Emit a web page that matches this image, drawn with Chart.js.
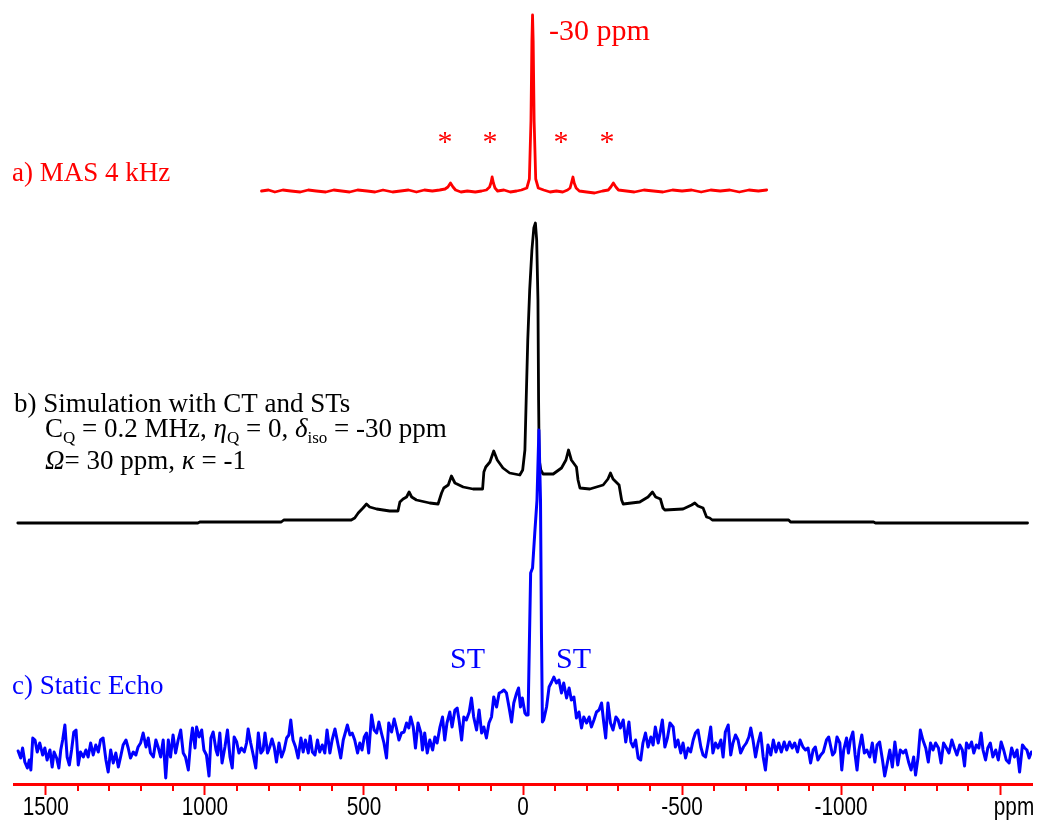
<!DOCTYPE html>
<html>
<head>
<meta charset="utf-8">
<script src="https://cdn.jsdelivr.net/npm/chart.js@4/dist/chart.umd.min.js"></script>
<style>
    html, body { margin: 0; padding: 0; background: #fff; }
    #wrap { position: relative; width: 1045px; height: 823px; }
</style>
</head>
<body>
<div id="wrap"><canvas id="nmrChart" width="1045" height="823"></canvas></div>
<script>
// Spectra: [ppm, intensity above the trace's own baseline]
// a) MAS 4 kHz (red)
const masPoints = [
    [822,0],[800,1],[780,-1],[755,1],[730,0],[700,-1],[675,1],[650,0],[620,-1],[595,1],[570,0],[545,-1],
    [520,1],[490,0],[465,-1],[440,1],[410,-1],[385,0],[360,1],[335,-1],[310,1],[285,0],[262,1],[245,2],
    [236,4],[228,8],[220,4],[212,1],[195,-1],[175,0],[150,-1],[130,0],[115,1],[105,4],[100,9],[97,14],
    [93,8],[88,3],[80,0],[60,1],[40,-1],[20,0],[5,1],[-12,3],[-20,12],[-25,70],[-28,150],[-30,176],
    [-32,150],[-35,70],[-40,12],[-48,3],[-65,1],[-85,-1],[-105,0],[-125,-1],[-140,1],[-148,3],[-153,9],
    [-157,14],[-161,8],[-167,3],[-177,0],[-200,-1],[-225,-2],[-250,0],[-268,1],[-276,4],[-284,8],[-292,4],
    [-300,1],[-325,0],[-350,-1],[-380,1],[-410,0],[-440,-1],[-470,1],[-500,0],[-530,1],[-560,-1],[-590,1],
    [-620,0],[-650,1],[-680,-1],[-710,1],[-740,0],[-766,1]
];

// b) Simulation with CT and STs (black)
const simPoints = [
    [1588,-1],[1022,-1],[1016,0],[760,0],[752,2],[540,2],[529,4],[518,9],[503,14],[492,18],[482,15],
    [460,13],[419,11],[393,11],[387,20],[377,23],[366,25],[358,30],[350,25],[335,22],[293,19],[267,18],
    [256,29],[249,34],[235,37],[225,46],[214,39],[188,35],[157,33],[127,33],[123,50],[117,55],[104,60],
    [92,71],[81,62],[63,54],[42,49],[10,47],[1,52],[-6,72],[-10,122],[-15,182],[-21,232],[-28,272],
    [-34,294],[-39,299],[-43,282],[-47,222],[-49,122],[-51,62],[-56,52],[-63,48],[-95,48],[-121,54],
    [-135,62],[-143,72],[-152,62],[-168,55],[-173,42],[-179,34],[-210,33],[-252,37],[-267,43],[-275,49],
    [-283,43],[-302,37],[-310,22],[-315,18],[-367,20],[-393,25],[-407,30],[-417,25],[-432,23],[-440,14],
    [-446,12],[-503,13],[-530,17],[-540,19],[-550,16],[-566,14],[-577,5],[-587,4],[-595,2],[-835,2],
    [-841,0],[-1102,0],[-1108,-1],[-1586,-1]
];

// c) Static Echo (blue)
const echoPoints = [
    [1587,-1],[1579,-8],[1573,2],[1566,-12],[1558,-18],[1552,-10],[1547,-20],[1541,12],[1534,10],[1527,-2],
    [1519,7],[1510,-5],[1503,2],[1496,-10],[1487,0],[1480,-17],[1474,-2],[1466,-8],[1459,-18],[1453,0],
    [1447,10],[1440,25],[1433,-7],[1426,-15],[1419,0],[1412,18],[1405,20],[1398,-15],[1391,-2],[1382,-7],
    [1374,0],[1367,-7],[1359,7],[1351,-5],[1343,5],[1335,-2],[1328,10],[1320,12],[1311,-10],[1304,-22],
    [1296,0],[1288,-13],[1280,-3],[1272,-17],[1265,-7],[1257,5],[1248,10],[1241,2],[1234,-8],[1225,-2],
    [1217,-5],[1210,3],[1202,7],[1194,17],[1185,3],[1178,12],[1171,-3],[1162,-7],[1154,10],[1147,3],
    [1139,-7],[1131,10],[1123,-28],[1115,10],[1108,-7],[1100,15],[1092,-3],[1084,10],[1076,20],[1068,-3],
    [1061,-7],[1052,-20],[1045,7],[1039,22],[1031,2],[1026,23],[1018,13],[1010,20],[1003,0],[995,-5],
    [987,-26],[981,12],[974,18],[965,0],
    [960,-5],[953,17],[946,-13],[937,3],[929,20],[921,-7],[914,-18],[908,13],[900,8],[893,-3],
    [885,2],[876,-2],[869,7],[864,21],[856,7],[848,-5],[840,-18],[832,17],[824,-3],[817,0],
    [811,17],[803,-3],[796,3],[789,11],[782,3],[775,-12],[767,7],[759,-7],[751,0],[743,12],
    [736,15],[730,30],[723,10],[715,3],[707,-8],[698,12],[691,-2],[684,10],[675,-3],[669,14],
    [662,-2],[654,-5],[646,10],[639,-2],[631,5],[623,-3],[616,20],[607,-3],[600,10],[591,21],
    [583,8],[573,-8],[565,10],[558,18],[552,25],[544,15],[537,17],[529,10],[520,-3],[513,7],
    [506,0],[499,13],[492,17],[485,-3],[476,35],[468,20],[460,17],[453,28],[445,17],[437,7],
    [429,-8],[422,27],[413,18],[405,31],[398,22],[390,10],[382,17],[374,18],[366,27],[359,22],
    [353,33],[345,23],[338,2],[330,27],[321,17],
    [316,0],[309,17],[301,-3],[293,10],[284,0],[277,13],[270,7],[261,23],[253,33],[246,10],
    [239,27],[230,38],[223,23],[214,40],[207,42],[201,30],[193,10],[186,33],[178,30],[169,38],
    [162,52],[155,33],[146,20],[138,40],[130,17],[123,23],[115,12],[107,27],[99,33],[92,53],
    [83,43],[75,57],[68,58],[60,60],[52,57],[44,43],[36,28],[29,47],[20,57],[14,62],
    [8,43],[2,52],[-6,37],[-11,35],[-16,35],[-24,177],[-30,182],[-37,217],[-44,250],[-50,320],
    [-55,250],[-58,117],[-61,28],[-65,30],[-74,43],[-82,63],[-90,68],[-97,73],[-105,67],[-113,70],
    [-121,57],[-128,67],[-137,52],[-145,62],[-152,50],[-160,53],[-168,32],[-176,38],[-184,22],[-191,33],
    [-200,27],[-208,33],[-215,23],[-223,30],[-231,38],[-239,40],[-247,47],[-254,27],[-260,12],[-267,47],
    [-275,27],[-283,20],[-292,33],[-299,30],[-306,22],[-315,30],[-323,8],
    [-333,28],[-339,8],[-346,3],[-354,10],[-362,-8],[-370,-10],[-377,7],[-385,17],[-393,3],[-402,13],
    [-409,5],[-416,23],[-425,7],[-431,17],[-438,30],[-446,3],[-454,12],[-462,27],[-472,23],[-479,3],
    [-487,10],[-496,-3],[-503,7],[-511,-8],[-519,2],[-527,-2],[-535,10],[-542,17],[-550,20],[-559,3],
    [-566,-5],[-574,-7],[-582,7],[-590,23],[-597,-3],[-605,7],[-613,2],[-622,10],[-629,-7],[-636,18],
    [-645,25],[-653,-5],[-660,7],[-668,15],[-676,10],[-684,-3],[-693,3],[-702,7],[-710,13],[-716,22],
    [-723,10],[-731,-7],[-739,7],[-747,17],[-755,-7],[-762,-20],[-770,5],[-779,-5],[-787,10],[-795,-2],
    [-804,7],[-812,-2],[-821,8],[-829,0],[-838,8],[-846,2],[-854,7],[-863,-2],[-871,10],[-880,3],
    [-888,0],[-896,2],[-904,-13],[-912,0],[-919,3],[-927,-10],[-936,-5],[-944,-2],[-954,10],[-961,13],
    [-973,-5],[-980,-2],[-987,13],[-996,7],[-1002,-20],[-1008,0],[-1017,12],[-1023,-3],[-1029,10],[-1037,18],
    [-1044,-5],[-1050,-20],[-1056,0],[-1065,15],[-1073,-3],[-1081,0],[-1090,-7],[-1098,7],[-1106,-12],[-1113,5],
    [-1121,8],[-1130,-10],[-1137,-26],[-1144,-15],[-1153,0],[-1161,-17],[-1169,8],[-1178,-15],[-1186,0],[-1195,-3],
    [-1203,0],[-1212,-12],[-1220,-20],[-1228,-7],[-1234,-25],[-1242,-7],[-1249,20],[-1257,10],[-1266,2],[-1274,-12],
    [-1281,7],[-1289,0],[-1297,7],[-1306,2],[-1314,-13],[-1322,7],[-1331,2],[-1339,-3],[-1348,10],[-1356,2],
    [-1364,-5],[-1373,5],[-1381,0],[-1388,-16],[-1394,7],[-1402,2],[-1410,8],[-1417,-3],[-1425,5],[-1433,2],
    [-1440,17],[-1446,0],[-1454,-10],[-1461,2],[-1469,7],[-1477,-7],[-1486,0],[-1494,-10],[-1503,8],[-1511,0],
    [-1519,-10],[-1528,-13],[-1536,2],[-1545,-7],[-1553,0],[-1561,-22],[-1570,5],[-1577,2],[-1584,0],[-1591,-8],
    [-1598,-2]
];

// vertical offset of each trace (stacked plot)
const masOffset = 593;
const simOffset = 262;
const echoOffset = 34;

// x axis ticks
const xTickValues = [1500, 1000, 500, 0, -500, -1000, -1500];
const xTickLabels = ['1500', '1000', '500', '0', '-500', '-1000', ''];

const RED = '#ff0000';
const BLUE = '#0000ff';
const SERIF = '"Liberation Serif", "Times New Roman", serif';
const SANS = '"Liberation Sans", Arial, sans-serif';

function toXY(points, offset) {
    return points.map(([ppm, v]) => ({ x: ppm, y: v + offset }));
}

// draw a line of text made of normal / italic / subscript pieces
function drawRich(ctx, pieces, x, y, size) {
    for (const [text, style] of pieces) {
        let font = `${size}px ${SERIF}`;
        let dy = 0;
        if (style === 'i') font = `italic ${size}px ${SERIF}`;
        if (style === 'sub') {
            font = `${Math.round(size * 0.62)}px ${SERIF}`;
            dy = size * 0.22;
        }
        ctx.font = font;
        ctx.fillText(text, x, y + dy);
        x += ctx.measureText(text).width;
    }
}

// narrow-looking axis label: the original uses a condensed sans face
function drawNarrow(ctx, text, x, y) {
    ctx.save();
    ctx.translate(x, y);
    ctx.scale(0.83, 1);
    ctx.fillText(text, 0, 0);
    ctx.restore();
}

// minor ticks, axis labels and the text labels of the figure
const annotations = {
    id: 'annotations',
    afterDraw(chart) {
        const { ctx, chartArea } = chart;
        const xScale = chart.scales.x;

        ctx.save();
        ctx.strokeStyle = RED;
        ctx.lineWidth = 2;
        for (let v = -1500; v <= 1500; v += 100) {
            if (v % 500 === 0) continue;
            const px = Math.round(xScale.getPixelForValue(v));
            ctx.beginPath();
            ctx.moveTo(px, chartArea.bottom);
            ctx.lineTo(px, chartArea.bottom + 7);
            ctx.stroke();
        }

        // tick labels + unit
        ctx.fillStyle = '#000';
        ctx.font = `25px ${SANS}`;
        ctx.textAlign = 'center';
        ctx.textBaseline = 'alphabetic';
        xTickValues.forEach((v, i) => {
            if (xTickLabels[i]) drawNarrow(ctx, xTickLabels[i], xScale.getPixelForValue(v), 815);
        });
        drawNarrow(ctx, 'ppm', 1014, 815);

        ctx.textAlign = 'left';

        // a) red
        ctx.fillStyle = RED;
        ctx.font = `30px ${SERIF}`;
        ctx.fillText('-30 ppm', 549, 40);
        ctx.font = `27px ${SERIF}`;
        ctx.fillText('a) MAS 4 kHz', 12, 181);
        ctx.textAlign = 'center';
        ctx.font = `30px ${SERIF}`;
        [445, 490, 561, 607].forEach(px => ctx.fillText('*', px, 151));
        ctx.textAlign = 'left';

        // b) black
        ctx.fillStyle = '#000';
        ctx.font = `27px ${SERIF}`;
        ctx.fillText('b) Simulation with CT and STs', 14, 412);
        drawRich(ctx, [['C', 'n'], ['Q', 'sub'], [' = 0.2 MHz, ', 'n'], ['\u03B7', 'i'], ['Q', 'sub'],
            [' = 0, ', 'n'], ['\u03B4', 'i'], ['iso', 'sub'], [' = -30 ppm', 'n']], 45, 437, 27);
        drawRich(ctx, [['\u03A9', 'i'], ['= 30 ppm, ', 'n'], ['\u03BA', 'i'], [' = -1', 'n']], 45, 469, 27);

        // c) blue
        ctx.fillStyle = BLUE;
        ctx.font = `30px ${SERIF}`;
        ctx.fillText('ST', 450, 668);
        ctx.fillText('ST', 556, 668);
        ctx.font = `27px ${SERIF}`;
        ctx.fillText('c) Static Echo', 12, 694);
        ctx.restore();
    }
};

const ctx = document.getElementById('nmrChart').getContext('2d');

new Chart(ctx, {
    type: 'line',
    data: {
        datasets: [
            {
                label: 'c) Static Echo',
                data: toXY(echoPoints, echoOffset),
                borderColor: BLUE,
                borderWidth: 3,
                order: 0
            },
            {
                label: 'b) Simulation',
                data: toXY(simPoints, simOffset),
                borderColor: '#000',
                borderWidth: 2.8,
                order: 1
            },
            {
                label: 'a) MAS 4 kHz',
                data: toXY(masPoints, masOffset),
                borderColor: RED,
                borderWidth: 2.8,
                order: 2
            }
        ]
    },
    options: {
        responsive: false,
        animation: false,
        devicePixelRatio: 1,
        layout: { padding: { left: 14, right: 13, top: 0, bottom: 0 } },
        elements: {
            point: { radius: 0 },
            line: { tension: 0, borderJoinStyle: 'round', borderCapStyle: 'round', fill: false }
        },
        plugins: {
            legend: { display: false },
            tooltip: { enabled: false }
        },
        scales: {
            x: {
                type: 'linear',
                reverse: true,
                min: -1600,
                max: 1600,
                afterFit: scale => { scale.height = 39; },
                afterBuildTicks: scale => { scale.ticks = xTickValues.map(v => ({ value: v })); },
                grid: {
                    drawOnChartArea: false,
                    drawTicks: true,
                    tickLength: 11,
                    tickColor: RED,
                    tickWidth: 2
                },
                border: { display: true, color: RED, width: 3 },
                ticks: { display: false }
            },
            y: { display: false, min: 0, max: 784 }
        }
    },
    plugins: [annotations]
});
</script>
</body>
</html>
